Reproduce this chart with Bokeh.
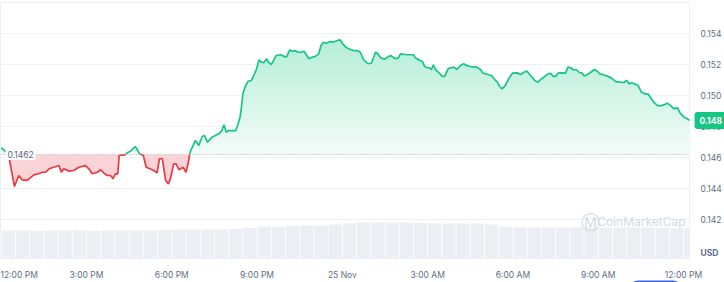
import numpy as np
import pandas as pd
from bokeh.plotting import figure
from bokeh.models import Range1d, FixedTicker, Label, Span, PrintfTickFormatter
from bokeh.core.properties import value
from bokeh.embed import file_html
from bokeh.resources import INLINE

# ---------------- data ----------------
START = pd.Timestamp("2024-11-24 12:00")

minutes = [
    0, 15, 28, 37, 44, 55, 69, 79, 87, 94,
    101, 111, 122, 127, 132, 143, 153, 164, 178, 185,
    192, 203, 210, 217, 224, 231, 236, 241, 246, 249,
    255, 260, 266, 273, 283, 292, 300, 306, 314, 322,
    329, 334, 340, 347, 353, 357, 364, 369, 375, 384,
    390, 395, 398, 400, 410, 417, 424, 429, 435, 445,
    452, 459, 466, 470, 475, 480, 488, 495, 499, 504,
    507, 510, 516, 521, 528, 533, 539, 544, 549, 554,
    560, 564, 570, 575, 580, 590, 596, 602, 609, 614,
    621, 626, 633, 639, 644, 649, 656, 663, 670, 675,
    680, 686, 694, 701, 709, 715, 720, 727, 737, 744,
    751, 758, 765, 774, 781, 786, 790, 795, 801, 809,
    815, 822, 827, 832, 838, 843, 850, 860, 870, 874,
    881, 889, 894, 899, 904, 908, 912, 917, 924, 931,
    936, 943, 950, 955, 962, 969, 976, 982, 990, 997,
    1001, 1006, 1012, 1017, 1022, 1029, 1035, 1040, 1047, 1052,
    1057, 1064, 1071, 1079, 1089, 1096, 1103, 1110, 1117, 1126,
    1133, 1140, 1145, 1152, 1159, 1165, 1170, 1175, 1184, 1191,
    1196, 1202, 1207, 1214, 1219, 1226, 1231, 1237, 1244, 1252,
    1258, 1263, 1271, 1279, 1288, 1297, 1306, 1314, 1320, 1325,
    1330, 1337, 1344, 1351, 1358, 1365, 1370, 1377, 1385, 1392,
    1399, 1406, 1413, 1420, 1427, 1434, 1441, 1448, 1453,
]

prices = [
    .14663, .14624, .14413, .14484, .14456, .14452, .14488, .14495, .14505, .14505,
    .14527, .14537, .14548, .14505, .14527, .14512, .14516, .14537, .14548, .14527,
    .14495, .14505, .14521, .14499, .14484, .14484, .14463, .14495, .14495, .14613,
    .14615, .14615, .14630, .14641, .14671, .14624, .14613, .14537, .14527, .14516,
    .14501, .14592, .14592, .14452, .14430, .14463, .14559, .14559, .14521, .14537,
    .14505, .14570, .14624, .14645, .14710, .14677, .14735, .14742, .14699, .14731,
    .14742, .14753, .14774, .14811, .14763, .14774, .14774, .14774, .14806, .14860,
    .14925, .15011, .15065, .15092, .15097, .15129, .15172, .15230, .15215, .15211,
    .15237, .15215, .15200, .15226, .15258, .15263, .15254, .15247, .15295, .15286,
    .15290, .15279, .15279, .15286, .15263, .15237, .15247, .15252, .15269, .15323,
    .15344, .15337, .15348, .15344, .15355, .15359, .15337, .15312, .15297, .15290,
    .15290, .15279, .15230, .15205, .15208, .15247, .15279, .15269, .15243, .15234,
    .15247, .15258, .15247, .15237, .15243, .15269, .15265, .15263, .15263, .15243,
    .15230, .15219, .15187, .15179, .15179, .15166, .15198, .15166, .15146, .15123,
    .15123, .15172, .15179, .15183, .15168, .15194, .15205, .15194, .15187, .15183,
    .15187, .15179, .15166, .15144, .15140, .15134, .15129, .15108, .15086, .15058,
    .15043, .15065, .15108, .15144, .15146, .15135, .15150, .15157, .15129, .15097,
    .15086, .15108, .15118, .15135, .15144, .15123, .15123, .15144, .15146, .15144,
    .15183, .15179, .15166, .15166, .15150, .15144, .15125, .15135, .15150, .15168,
    .15157, .15140, .15134, .15125, .15112, .15090, .15086, .15084, .15097, .15075,
    .15082, .15075, .15065, .15021, .15011, .15011, .14989, .14957, .14935, .14935,
    .14940, .14950, .14935, .14914, .14921, .14882, .14860, .14850, .14839,
]

baseline_price = 0.1462

# 30-minute volume slots (million USD, relative)
volume_slot_minutes = 30
volumes = [
    11.2, 11.2, 11.0, 11.2, 11.2, 11.2, 11.0, 11.2, 11.2, 11.2, 11.2, 11.4,
    11.6, 11.6, 11.6, 11.6, 11.8, 12.2,
    12.8, 12.8, 13.0, 13.2, 13.2, 13.6,
    14.0, 14.4, 14.4, 14.4, 14.4,
    14.2, 14.0, 14.0, 14.0, 14.0, 13.6,
    12.8, 12.4, 12.4, 12.4, 12.4, 12.4, 12.4, 12.4, 12.4, 12.4, 12.4, 12.2, 12.0, 12.0,
]

x_tick_hours = [0, 3, 6, 9, 12, 15, 18, 21, 24]
x_tick_labels = ["12:00 PM", "3:00 PM", "6:00 PM", "9:00 PM", "25 Nov",
                 "3:00 AM", "6:00 AM", "9:00 AM", "12:00 PM"]
y_ticks = [0.142, 0.144, 0.146, 0.148, 0.150, 0.152, 0.154]
currency = "USD"

# ---------------- helpers ----------------
def to_ms(m):
    return (START + pd.Timedelta(minutes=m)).value / 1e6

GREEN = "#16c784"
RED = "#ea3943"
TXT = "#616e85"
FONT = "Inter"

n = min(len(minutes), len(prices))
xs = np.array([to_ms(m) for m in minutes[:n]])
ys = np.array(prices[:n])
base = baseline_price

# insert crossing points with the baseline
px, py = [xs[0]], [ys[0]]
for i in range(1, n):
    y0, y1 = ys[i - 1], ys[i]
    if (y0 - base) * (y1 - base) < 0:
        t = (base - y0) / (y1 - y0)
        px.append(xs[i - 1] + t * (xs[i] - xs[i - 1]))
        py.append(base)
    px.append(xs[i])
    py.append(ys[i])
px = np.array(px)
py = np.array(py)

def runs(above):
    out_x, out_y, cx, cy = [], [], [], []
    for i in range(len(px) - 1):
        mid = (py[i] + py[i + 1]) / 2
        ok = mid >= base if above else mid < base
        if ok:
            if not cx:
                cx, cy = [px[i]], [py[i]]
            cx.append(px[i + 1]); cy.append(py[i + 1])
        elif cx:
            out_x.append(cx); out_y.append(cy); cx, cy = [], []
    if cx:
        out_x.append(cx); out_y.append(cy)
    return out_x, out_y

def mix(hexcol, a):
    h = hexcol.lstrip("#")
    r, g, b = (int(h[i:i + 2], 16) for i in (0, 2, 4))
    return "#%02x%02x%02x" % tuple(int(round(255 - a * (255 - c))) for c in (r, g, b))

# ---------------- layout ----------------
PX_PER_MIN = 28.43 / 60.0
x0 = to_ms(-0.7 / PX_PER_MIN)
x1 = to_ms((689 - 0.7) / PX_PER_MIN)
price_per_px = 0.002 / 31.0
y_top = 0.148 + 124 * price_per_px
y_bot = 0.148 - 132 * price_per_px

p = figure(width=724, height=282, x_axis_type="datetime", y_axis_location="right",
           x_range=Range1d(x0, x1), y_range=Range1d(y_bot, y_top),
           output_backend="svg", toolbar_location=None,
           min_border_left=0, min_border_right=35, min_border_top=2, min_border_bottom=24)
p.background_fill_color = "white"
p.border_fill_color = "white"
p.outline_line_color = "#eceff3"

p.extra_y_ranges = {"vol": Range1d(0, max(volumes) * 7.1)}

# volume bars
vx = [to_ms(volume_slot_minutes * k + volume_slot_minutes / 2) for k in range(len(volumes))]
p.vbar(x=vx, top=volumes, bottom=0, width=volume_slot_minutes * 60000 * 0.94,
       y_range_name="vol", fill_color="#ebeef3", line_color=None)

# green gradient area (above baseline)
N = 40
vmax = py.max()
levels = np.linspace(base, vmax, N + 1)
for k in range(N - 1, -1, -1):
    frac = (k + 0.5) / N
    col = mix(GREEN, 0.05 + 0.27 * frac)
    top = np.maximum(np.minimum(py, levels[k + 1]), base)
    p.varea(x=px, y1=np.full_like(py, base), y2=top, fill_color=col)

# red area (below baseline)
p.varea(x=px, y1=np.minimum(py, base), y2=np.full_like(py, base), fill_color=mix(RED, 0.22))

p.add_layout(Span(location=base, dimension="width", line_color="#a9b2c2",
                  line_dash="1 2", line_width=1))

gx, gy = runs(True)
rx, ry = runs(False)
p.multi_line(xs=gx, ys=gy, line_color=GREEN, line_width=1.7)
p.multi_line(xs=rx, ys=ry, line_color=RED, line_width=1.7)

# axes
tick_vals = []
overrides = {}
for h, lab in zip(x_tick_hours, x_tick_labels):
    m = h * 60
    if h == 0:
        m += (18.5 - 0.7) / PX_PER_MIN  # keep the first label inside the canvas
    v = to_ms(m)
    tick_vals.append(v)
    overrides[v] = lab
xa = p.xaxis[0]
xa.ticker = FixedTicker(ticks=tick_vals)
xa.major_label_overrides = overrides
xa.axis_line_color = None
xa.major_tick_line_color = None
xa.minor_tick_line_color = None
xa.major_label_standoff = 5
xa.major_label_text_font = FONT
xa.major_label_text_font_size = "8.5px"
xa.major_label_text_color = TXT

ya = p.yaxis[0]
ya.ticker = FixedTicker(ticks=y_ticks)
ya.formatter = PrintfTickFormatter(format="%.3f")
ya.axis_line_color = None
ya.major_tick_line_color = None
ya.minor_tick_line_color = None
ya.major_label_standoff = 5
ya.major_label_text_font = FONT
ya.major_label_text_font_size = "8.5px"
ya.major_label_text_color = TXT

p.xgrid.grid_line_color = None
p.ygrid.grid_line_color = "#eff2f5"
p.ygrid.ticker = FixedTicker(ticks=y_ticks)

# labels
p.add_layout(Label(x=x0, y=base, text=f"{base:.4f}", x_offset=5, text_baseline="middle",
                   text_align="left", text_font=FONT, text_font_size="8.5px",
                   text_color="#58667e", background_fill_color="white",
                   padding=2, border_radius=3))

# last price tag and currency, drawn at overlay level so they can sit beside the frame
p.text(x=[x1], y=[prices[n - 1]], text=[f"{prices[n - 1]:.3f}"], x_offset=5,
       text_baseline="middle", text_align="left", text_font=value(FONT),
       text_font_size="8.5px", text_font_style="bold", text_color="white",
       background_fill_color=GREEN, padding=5, border_radius=3, level="overlay")
p.text(x=[x1], y=[y_bot], text=[currency], x_offset=11, y_offset=-1,
       text_baseline="bottom", text_align="left", text_font=value(FONT),
       text_font_size="8.5px", text_font_style="bold", text_color=TXT, level="overlay")
# partially visible blue control at the bottom edge
p.text(x=[to_ms(24 * 60)], y=[y_bot], text=["\u2003\u2003\u2003\u2003\u2003"], x_offset=-28,
       y_offset=22, text_baseline="top", text_align="center", text_font=value(FONT),
       text_font_size="9px", text_color="#3861fb",
       background_fill_color="#3861fb", padding=4, border_radius=9, level="overlay")

wm_y = 0.148 - 95 * price_per_px
p.add_layout(Label(x=x1, y=wm_y, text="CoinMarketCap", x_offset=-4, text_baseline="middle",
                   text_align="right", text_font=FONT, text_font_size="12px",
                   text_color="#d3d9e2"))
p.add_layout(Label(x=x1, y=wm_y, text="\u24c2", x_offset=-99, text_baseline="middle",
                   text_align="center", text_font="DejaVu Sans", text_font_size="19px",
                   text_color="#d3d9e2"))

open("out.html", "w").write(file_html(p, INLINE))
